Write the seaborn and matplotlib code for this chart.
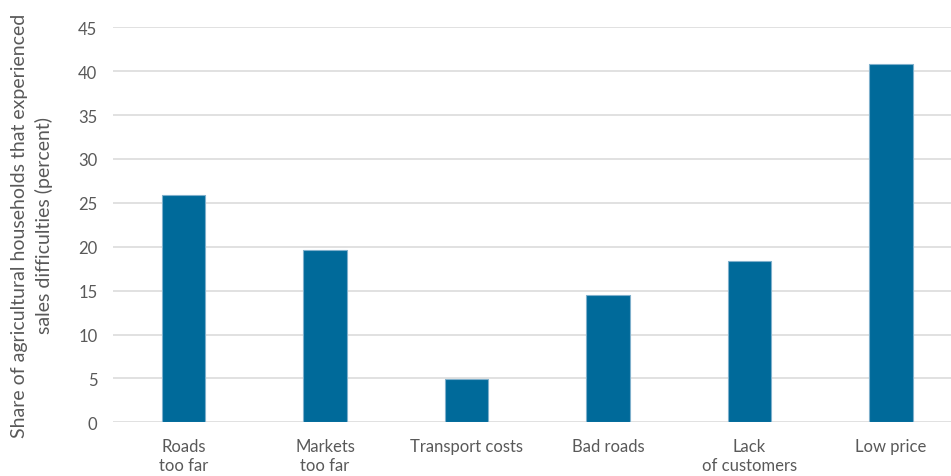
import matplotlib
matplotlib.use("Agg")
import matplotlib.pyplot as plt
import seaborn as sns
import pandas as pd

categories = ["Roads\ntoo far", "Markets\ntoo far", "Transport costs", "Bad roads",
              "Lack\nof customers", "Low price"]
shares = [25.9, 19.6, 4.9, 14.5, 18.4, 40.8]
y_ticks = [0, 5, 10, 15, 20, 25, 30, 35, 40, 45]

sns.set_theme(style="white")
plt.rcParams["font.family"] = ["Lato", "DejaVu Sans"]

df = pd.DataFrame({"category": categories, "share": shares})

fig = plt.figure(figsize=(9.51, 4.77), dpi=100)
ax = fig.add_axes([112.75 / 951, 1 - 423.3 / 477, (961.75 - 112.75) / 951, (423.3 - 28.3) / 477])

sns.barplot(data=df, x="category", y="share", color="#006a9a", width=0.31,
            saturation=1, edgecolor="#7fb0cc", linewidth=0.8, ax=ax, zorder=3)

ax.set_xlim(-0.5, 5.5)
ax.set_ylim(0, 45)
ax.set_yticks(y_ticks)
ax.yaxis.grid(True, color="#d9d9d9", linewidth=1.1)
ax.set_axisbelow(True)
for s in ax.spines.values():
    s.set_visible(False)
ax.tick_params(axis="both", length=0, labelsize=12, colors="#595959")
ax.tick_params(axis="y", pad=11)
ax.tick_params(axis="x", pad=11)
for lbl in ax.get_xticklabels():
    lbl.set_linespacing(1.3)
ax.set_xlabel("")
ax.set_ylabel("Share of agricultural households that experienced\nsales difficulties (percent)",
              fontsize=14, color="#595959", linespacing=1.45, labelpad=18)

fig.savefig("out.png", dpi=100)
